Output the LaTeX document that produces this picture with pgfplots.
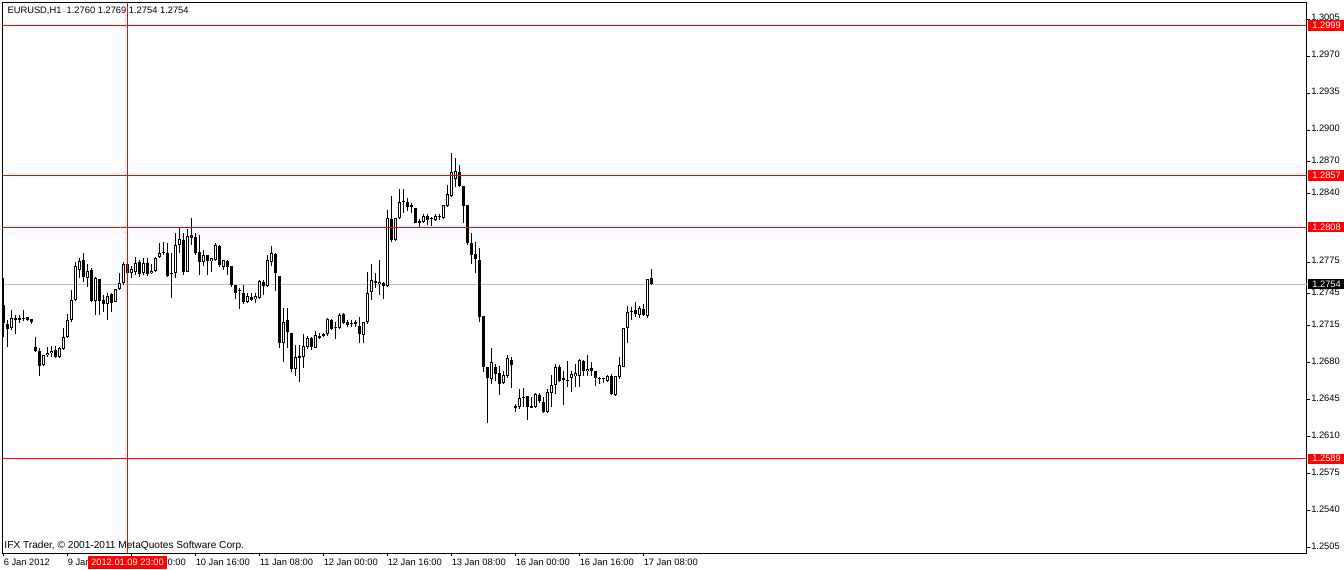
\documentclass[border=0pt]{standalone}
\usepackage{fontspec}
\setmainfont{Liberation Sans}
\usepackage{pgfplots}
\pgfplotsset{compat=1.18}
\usepackage{pgfplotstable}
\definecolor{mtred}{RGB}{255,0,0}
\definecolor{mtsilver}{RGB}{192,192,192}

% EURUSD H1 bars: index, open, high, low, close
\pgfplotstableread{
i o h l c
0 1.2735 1.2760 1.2704 1.2718
1 1.2717 1.2720 1.2695 1.2712
2 1.2713 1.2730 1.2711 1.2722
3 1.2721 1.2725 1.2707 1.2722
4 1.2722 1.2725 1.2718 1.2720
5 1.2722 1.2730 1.2719 1.2722
6 1.2723 1.2723 1.2719 1.2720
7 1.2721 1.2721 1.2717 1.2719
8 1.2695 1.2704 1.2690 1.2691
9 1.2691 1.2694 1.2667 1.2677
10 1.2678 1.2687 1.2677 1.2687
11 1.2687 1.2695 1.2685 1.2689
12 1.2689 1.2696 1.2685 1.2691
13 1.2692 1.2696 1.2684 1.2685
14 1.2685 1.2695 1.2684 1.2694
15 1.2693 1.2713 1.2692 1.2704
16 1.2704 1.2726 1.2703 1.2720
17 1.2720 1.2749 1.2719 1.2739
18 1.2739 1.2775 1.2738 1.2771
19 1.2768 1.2779 1.2760 1.2776
20 1.2777 1.2784 1.2756 1.2761
21 1.2760 1.2773 1.2752 1.2767
22 1.2768 1.2770 1.2737 1.2738
23 1.2738 1.2761 1.2725 1.2760
24 1.2759 1.2759 1.2725 1.2738
25 1.2739 1.2744 1.2728 1.2736
26 1.2735 1.2746 1.2720 1.2743
27 1.2745 1.2746 1.2728 1.2736
28 1.2737 1.2750 1.2737 1.2750
29 1.2750 1.2765 1.2749 1.2755
30 1.2755 1.2775 1.2754 1.2773
31 1.2773 1.2773 1.2763 1.2765
32 1.2765 1.2771 1.2760 1.2769
33 1.2766 1.2780 1.2763 1.2774
34 1.2775 1.2777 1.2761 1.2764
35 1.2765 1.2779 1.2763 1.2774
36 1.2774 1.2779 1.2762 1.2764
37 1.2765 1.2773 1.2764 1.2767
38 1.2767 1.2780 1.2766 1.2779
39 1.2780 1.2793 1.2779 1.2784
40 1.2784 1.2794 1.2782 1.2785
41 1.2784 1.2793 1.2761 1.2762
42 1.2765 1.2784 1.2741 1.2764
43 1.2765 1.2803 1.2760 1.2791
44 1.2791 1.2808 1.2784 1.2797
45 1.2796 1.2803 1.2763 1.2766
46 1.2766 1.2807 1.2766 1.2800
47 1.2801 1.2817 1.2791 1.2798
48 1.2799 1.2803 1.2782 1.2784
49 1.2785 1.2801 1.2763 1.2775
50 1.2775 1.2787 1.2771 1.2782
51 1.2782 1.2782 1.2763 1.2776
52 1.2776 1.2779 1.2766 1.2779
53 1.2777 1.2793 1.2776 1.2791
54 1.2790 1.2791 1.2771 1.2772
55 1.2771 1.2777 1.2768 1.2777
56 1.2776 1.2777 1.2763 1.2771
57 1.2771 1.2771 1.2752 1.2753
58 1.2753 1.2753 1.2740 1.2746
59 1.2749 1.2751 1.2731 1.2748
60 1.2746 1.2753 1.2735 1.2737
61 1.2737 1.2746 1.2736 1.2743
62 1.2742 1.2746 1.2738 1.2739
63 1.2740 1.2746 1.2736 1.2743
64 1.2741 1.2758 1.2740 1.2757
65 1.2756 1.2758 1.2744 1.2753
66 1.2753 1.2782 1.2752 1.2777
67 1.2775 1.2790 1.2771 1.2784
68 1.2783 1.2784 1.2748 1.2765
69 1.2762 1.2762 1.2694 1.2699
70 1.2699 1.2732 1.2681 1.2719
71 1.2720 1.2732 1.2694 1.2709
72 1.2708 1.2708 1.2671 1.2674
73 1.2674 1.2697 1.2667 1.2685
74 1.2685 1.2697 1.2662 1.2686
75 1.2685 1.2707 1.2675 1.2696
76 1.2695 1.2705 1.2693 1.2703
77 1.2703 1.2704 1.2692 1.2695
78 1.2694 1.2710 1.2694 1.2706
79 1.2704 1.2708 1.2702 1.2705
80 1.2706 1.2708 1.2704 1.2707
81 1.2707 1.2722 1.2705 1.2721
82 1.2720 1.2721 1.2711 1.2712
83 1.2713 1.2718 1.2702 1.2714
84 1.2713 1.2727 1.2712 1.2725
85 1.2726 1.2727 1.2717 1.2718
86 1.2718 1.2720 1.2714 1.2716
87 1.2717 1.2720 1.2714 1.2718
88 1.2719 1.2720 1.2714 1.2717
89 1.2715 1.2723 1.2699 1.2707
90 1.2706 1.2718 1.2699 1.2718
91 1.2718 1.2766 1.2717 1.2746
92 1.2747 1.2773 1.2739 1.2758
93 1.2757 1.2765 1.2751 1.2755
94 1.2754 1.2777 1.2744 1.2756
95 1.2755 1.2756 1.2740 1.2753
96 1.2753 1.2824 1.2752 1.2817
97 1.2816 1.2838 1.2794 1.2796
98 1.2796 1.2817 1.2795 1.2817
99 1.2817 1.2844 1.2816 1.2832
100 1.2832 1.2844 1.2822 1.2833
101 1.2832 1.2836 1.2824 1.2827
102 1.2829 1.2831 1.2822 1.2827
103 1.2826 1.2826 1.2812 1.2812
104 1.2814 1.2816 1.2808 1.2813
105 1.2813 1.2821 1.2812 1.2819
106 1.2819 1.2821 1.2810 1.2815
107 1.2817 1.2818 1.2809 1.2816
108 1.2815 1.2821 1.2814 1.2819
109 1.2818 1.2821 1.2815 1.2819
110 1.2817 1.2829 1.2816 1.2829
111 1.2828 1.2848 1.2827 1.2840
112 1.2838 1.2878 1.2837 1.2860
113 1.2854 1.2874 1.2846 1.2861
114 1.2860 1.2867 1.2846 1.2847
115 1.2847 1.2847 1.2812 1.2828
116 1.2829 1.2829 1.2791 1.2793
117 1.2793 1.2803 1.2773 1.2782
118 1.2783 1.2794 1.2765 1.2778
119 1.2777 1.2789 1.2719 1.2723
120 1.2724 1.2724 1.2671 1.2676
121 1.2676 1.2676 1.2623 1.2666
122 1.2665 1.2694 1.2660 1.2681
123 1.2676 1.2679 1.2663 1.2669
124 1.2670 1.2677 1.2649 1.2660
125 1.2661 1.2672 1.2660 1.2668
126 1.2667 1.2687 1.2665 1.2684
127 1.2683 1.2685 1.2656 1.2678
128 1.2639 1.2641 1.2633 1.2638
129 1.2638 1.2655 1.2636 1.2647
130 1.2647 1.2656 1.2638 1.2648
131 1.2648 1.2648 1.2626 1.2638
132 1.2639 1.2648 1.2637 1.2638
133 1.2638 1.2651 1.2637 1.2650
134 1.2649 1.2651 1.2642 1.2644
135 1.2643 1.2647 1.2632 1.2633
136 1.2633 1.2655 1.2632 1.2652
137 1.2651 1.2668 1.2638 1.2659
138 1.2659 1.2679 1.2650 1.2676
139 1.2676 1.2678 1.2662 1.2663
140 1.2664 1.2672 1.2640 1.2665
141 1.2664 1.2682 1.2657 1.2663
142 1.2665 1.2672 1.2652 1.2669
143 1.2667 1.2679 1.2657 1.2670
144 1.2667 1.2683 1.2657 1.2683
145 1.2682 1.2683 1.2667 1.2672
146 1.2672 1.2687 1.2667 1.2674
147 1.2675 1.2681 1.2667 1.2672
148 1.2672 1.2672 1.2658 1.2666
149 1.2666 1.2666 1.2660 1.2665
150 1.2665 1.2666 1.2661 1.2666
151 1.2663 1.2668 1.2662 1.2667
152 1.2667 1.2669 1.2649 1.2650
153 1.2649 1.2667 1.2648 1.2667
154 1.2666 1.2685 1.2665 1.2678
155 1.2676 1.2713 1.2676 1.2713
156 1.2713 1.2734 1.2699 1.2728
157 1.2728 1.2733 1.2720 1.2729
158 1.2730 1.2737 1.2723 1.2726
159 1.2725 1.2734 1.2722 1.2732
160 1.2731 1.2735 1.2724 1.2725
161 1.2724 1.2759 1.2722 1.2759
162 1.2760 1.2769 1.2754 1.2754
}\candles

\tikzset{
  pricebox/.style={anchor=west, text=white, inner xsep=2pt, inner ysep=0pt,
    minimum height=7.6pt, minimum width=27.9pt, font=\fontsize{7}{8}\selectfont},
}
% error bars only: no line through the points, no markers
\pgfplotsset{
  barpart/.style={draw=none, no markers, forget plot,
    error bars/.cd, y dir=both, y explicit, error mark=none},
}

\begin{document}
\begin{tikzpicture}
\path[use as bounding box] (0pt,0pt) rectangle (1008pt,427.5pt);
\begin{axis}[
  at={(1.875pt,12.375pt)}, anchor=south west,
  scale only axis, width=978pt, height=413.25pt,
  xmin=-0.25, xmax=325.75, ymin=1.249938, ymax=1.302076,
  clip=false,
  axis line style={black, line width=0.75pt},
  tick style={black, line width=0.75pt},
  major tick length=2.25pt, tick align=outside,
  xtick pos=bottom, ytick pos=right, yticklabel pos=right,
  xtick={0,16,...,160},
  xticklabels={6 Jan 2012, 9 Jan 08:00, 10 Jan 00:00, 10 Jan 16:00, 11 Jan 08:00,
    12 Jan 00:00, 12 Jan 16:00, 13 Jan 08:00, 16 Jan 00:00, 16 Jan 16:00, 17 Jan 08:00},
  ytick={1.2505,1.2540,1.2575,1.2610,1.2645,1.2680,1.2715,1.2745,1.2775,1.2840,1.2870,1.2900,1.2935,1.2970,1.3005},
  yticklabels={1.2505,1.2540,1.2575,1.2610,1.2645,1.2680,1.2715,1.2745,1.2775,1.2840,1.2870,1.2900,1.2935,1.2970,1.3005},
  scaled y ticks=false,
  /pgf/number format/assume math mode=true,
  tick label style={font=\fontsize{7}{8}\selectfont, inner sep=0pt},
  xticklabel style={anchor=north west, yshift=-1.5pt},
  yticklabel style={anchor=west, xshift=1.1pt, yshift=1.1pt},
]
% bid line behind the bars
\addplot[draw=mtsilver, line width=0.75pt, no markers, forget plot] coordinates {(-0.25,1.2754) (325.75,1.2754)};

% wicks
\addplot[black, barpart, error bar style={draw=black, line width=0.75pt, line cap=butt}]
  table[x=i, y expr={(\thisrow{h}+\thisrow{l})/2}, y error expr={(\thisrow{h}-\thisrow{l})/2}] {\candles};
% bodies
\addplot[black, barpart, error bar style={draw=black, line width=2.25pt, line cap=butt}]
  table[x=i, y expr={(\thisrow{o}+\thisrow{c})/2}, y error expr={max(abs(\thisrow{c}-\thisrow{o})/2,0.00005)}] {\candles};
% hollow inside of rising bars (zero length for falling bars)
\addplot[white, barpart, error bar style={draw=white, line width=0.75pt, line cap=butt}]
  table[x=i, y expr={(\thisrow{o}+\thisrow{c})/2}, y error expr={max((\thisrow{c}-\thisrow{o})/2-0.0000946,0)}] {\candles};

% horizontal levels and crosshair on top
\addplot[mtred, line width=0.75pt, no markers, forget plot] coordinates {(-0.25,1.2999) (325.75,1.2999)};
\addplot[mtred, line width=0.75pt, no markers, forget plot] coordinates {(-0.25,1.2857) (325.75,1.2857)};
\addplot[mtred, line width=0.75pt, no markers, forget plot] coordinates {(-0.25,1.2808) (325.75,1.2808)};
\addplot[mtred, line width=0.75pt, no markers, forget plot] coordinates {(-0.25,1.2589) (325.75,1.2589)};
\addplot[mtred, line width=0.75pt, no markers, forget plot] coordinates {(31,1.249938) (31,1.302076)};

\coordinate (p2999) at (axis cs:325.75,1.2999);
\coordinate (p2857) at (axis cs:325.75,1.2857);
\coordinate (p2808) at (axis cs:325.75,1.2808);
\coordinate (p2754) at (axis cs:325.75,1.2754);
\coordinate (p2589) at (axis cs:325.75,1.2589);
\coordinate (cross) at (axis cs:31,1.249938);
\coordinate (tl) at (axis cs:-0.25,1.302076);
\coordinate (bl) at (axis cs:-0.25,1.249938);
\end{axis}

\node[pricebox, fill=mtred] at ([xshift=0.9pt]p2999) {1.2999};
\node[pricebox, fill=mtred] at ([xshift=0.9pt]p2857) {1.2857};
\node[pricebox, fill=mtred] at ([xshift=0.9pt]p2808) {1.2808};
\node[pricebox, fill=black] at ([xshift=0.9pt]p2754) {1.2754};
\node[pricebox, fill=mtred] at ([xshift=0.9pt]p2589) {1.2589};
\node[anchor=north, fill=mtred, text=white, inner sep=0pt, minimum width=59.25pt,
  minimum height=9.5pt, font=\fontsize{7}{8}\selectfont] at ([yshift=-1.65pt]cross) {2012.01.09 23:00};
\node[anchor=base west, inner sep=0pt, font=\fontsize{7}{8}\selectfont]
  at ([xshift=3.6pt,yshift=-8.1pt]tl) {EURUSD,H1\ \ 1.2760 1.2769 1.2754 1.2754};
\node[anchor=base west, inner sep=0pt, font=\fontsize{7.6}{9}\selectfont]
  at ([xshift=1.3pt,yshift=3.4pt]bl) {IFX Trader, © 2001-2011 MetaQuotes Software Corp.};
\end{tikzpicture}
\end{document}
